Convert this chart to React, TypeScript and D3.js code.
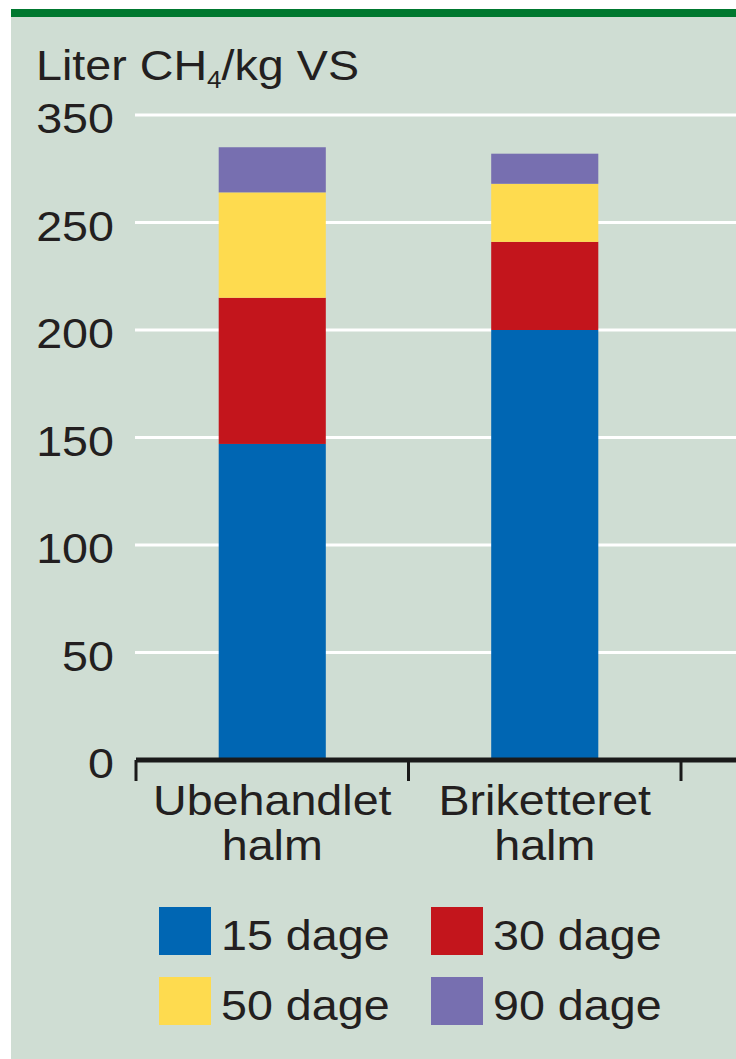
import { scaleBand, scaleLinear, stack } from "d3";

const categories = ["Ubehandlet halm", "Briketteret halm"];
const seriesNames = ["15 dage", "30 dage", "50 dage", "90 dage"];
// increments per period (liter CH4/kg VS)
const dage15 = [147, 200];
const dage30 = [68, 41];
const dage50 = [49, 27];
const dage90 = [21, 14];
const tickValues = [0, 50, 100, 150, 200, 250, 300];
const tickLabels = ["0", "50", "100", "150", "200", "250", "350"];
const colors = ["#0066b3", "#c3151c", "#fedb4f", "#776fb0"];

const W = 736;
const H = 1059;
const font = "'Liberation Sans', Arial, sans-serif";
const textColor = "#231f20";
const stretch = 1.085; // source text is a bit wider than Arial

function T(props: { x: number; y: number; anchor?: string; children: any }) {
  return (
    <text
      transform={`translate(${props.x},${props.y}) scale(${stretch},1)`}
      textAnchor={props.anchor || "start"}
      fontSize={43}
      fill={textColor}
    >
      {props.children}
    </text>
  );
}

function App() {
  const rows = categories.map((c, i) => ({
    cat: c,
    "15 dage": dage15[i],
    "30 dage": dage30[i],
    "50 dage": dage50[i],
    "90 dage": dage90[i],
  }));
  const series = stack<any>().keys(seriesNames)(rows);

  const x = scaleBand()
    .domain(categories)
    .range([136, 681])
    .paddingInner(0.607)
    .paddingOuter(0.3035);
  const y = scaleLinear().domain([0, 300]).range([760, 115]);

  const step = x.step();
  const edges = [0, 1, 2].map((i) => 136 + i * step);

  return (
    <svg
      width={W}
      height={H}
      style={{ position: "absolute", left: 0, top: 0, fontFamily: font }}
    >
      <rect x={0} y={0} width={W} height={H} fill="#fff" />
      <rect x={11} y={13} width={W - 11} height={H - 13} fill="#cfddd3" />
      <rect x={11} y={9} width={W - 11} height={8} fill="#00782f" />

      <T x={36} y={80}>
        Liter CH
        <tspan fontSize={24} dy={8}>4</tspan>
        <tspan dy={-8}>/kg VS</tspan>
      </T>

      {tickValues.map((v, i) => (
        <g key={v}>
          {v > 0 && (
            <line
              x1={135}
              x2={W}
              y1={y(v)}
              y2={y(v)}
              stroke="#fff"
              strokeWidth={3}
            />
          )}
          <T x={114} y={y(v) + 18} anchor="end">
            {tickLabels[i]}
          </T>
        </g>
      ))}

      {series.map((s, si) =>
        s.map((d: any, j: number) => (
          <rect
            key={si + "-" + j}
            x={x(categories[j])}
            y={y(d[1])}
            width={x.bandwidth()}
            height={y(d[0]) - y(d[1])}
            fill={colors[si]}
          />
        ))
      )}

      <line x1={136} x2={W} y1={760} y2={760} stroke="#1a1a1a" strokeWidth={5} />
      {edges.map((e) => (
        <line
          key={e}
          x1={e}
          x2={e}
          y1={760}
          y2={781}
          stroke="#1a1a1a"
          strokeWidth={3}
        />
      ))}

      {categories.map((c) => {
        const cx = (x(c) as number) + x.bandwidth() / 2;
        const parts = c.split(" ");
        return (
          <g key={c}>
            <T x={cx} y={815} anchor="middle">
              {parts[0]}
            </T>
            <T x={cx} y={860} anchor="middle">
              {parts[1]}
            </T>
          </g>
        );
      })}

      {seriesNames.map((n, i) => {
        const lx = 159 + (i % 2) * 272;
        const ly = 907 + Math.floor(i / 2) * 70;
        return (
          <g key={n}>
            <rect x={lx} y={ly} width={52} height={48} fill={colors[i]} />
            <T x={lx + 62} y={ly + 43}>
              {n}
            </T>
          </g>
        );
      })}
    </svg>
  );
}

export default App;
